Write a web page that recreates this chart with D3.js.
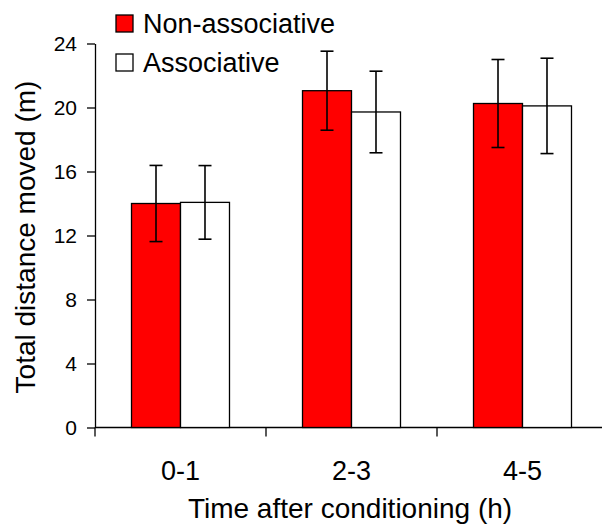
<!DOCTYPE html>
<html>
<head>
<meta charset="utf-8">
<script src="https://cdn.jsdelivr.net/npm/d3@7"></script>
<style>
  body { margin: 0; background: #fff; }
  svg text { font-family: "Liberation Sans", Arial, sans-serif; fill: #000; }
</style>
</head>
<body>
<div class="chart"></div>
<script>
// data
var categories = ["0-1", "2-3", "4-5"];
var seriesNames = ["Non-associative", "Associative"];
var nonAssocMean = [14.0, 21.05, 20.25];
var nonAssocErr = [2.38, 2.47, 2.75];
var assocMean = [14.07, 19.72, 20.1];
var assocErr = [2.3, 2.55, 2.98];
var yTicks = [0, 4, 8, 12, 16, 20, 24];

var svgWidth = 602;
var svgHeight = 524;

var margin = { top: 43.5, right: 0, bottom: 96.5, left: 95 };
var width = svgWidth - margin.left - margin.right;
var height = svgHeight - margin.top - margin.bottom;

var svg = d3.select(".chart")
    .append("svg")
    .attr("width", svgWidth)
    .attr("height", svgHeight);

var chartGroup = svg.append("g")
    .attr("transform", `translate(${margin.left}, ${margin.top})`);

// build rows from the arrays
var rows = categories.map(function(c, i) {
    return {
        cat: c,
        values: [
            { key: seriesNames[0], mean: nonAssocMean[i], err: nonAssocErr[i] },
            { key: seriesNames[1], mean: assocMean[i], err: assocErr[i] }
        ]
    };
});

var colors = d3.scaleOrdinal().domain(seriesNames).range(["#ff0000", "#ffffff"]);

// scales
var x0 = d3.scaleBand()
    .domain(categories)
    .range([0, 513])
    .paddingInner(0.427)
    .paddingOuter(0.2135);

var x1 = d3.scaleBand()
    .domain(seriesNames)
    .range([0, x0.bandwidth()]);

var yLinearScale = d3.scaleLinear()
    .domain([0, 24])
    .range([height, 0]);

// y axis
var leftAxis = d3.axisLeft(yLinearScale)
    .tickValues(yTicks)
    .tickSize(8)
    .tickSizeOuter(0)
    .tickPadding(10);

var yAxisG = chartGroup.append("g").call(leftAxis);
yAxisG.selectAll("text").style("font-size", "21px");
yAxisG.selectAll("line, path").attr("stroke", "#000").attr("stroke-width", 1.3);

// x axis line + tick marks at band boundaries
chartGroup.append("line")
    .attr("x1", 0).attr("x2", width + 10)
    .attr("y1", height).attr("y2", height)
    .attr("stroke", "#000").attr("stroke-width", 1.3);

var gap = (x0.step() - x0.bandwidth()) / 2;
chartGroup.selectAll(".xtick")
    .data(categories)
    .enter()
    .append("line")
    .attr("class", "xtick")
    .attr("x1", d => x0(d) - gap)
    .attr("x2", d => x0(d) - gap)
    .attr("y1", height)
    .attr("y2", height + 9)
    .attr("stroke", "#000").attr("stroke-width", 1.3);

chartGroup.selectAll(".xlabel")
    .data(categories)
    .enter()
    .append("text")
    .attr("class", "xlabel")
    .attr("x", d => x0(d) + x0.bandwidth() / 2)
    .attr("y", height + 52)
    .attr("text-anchor", "middle")
    .style("font-size", "27px")
    .text(d => d);

// bars
var groups = chartGroup.selectAll(".grp")
    .data(rows)
    .enter()
    .append("g")
    .attr("class", "grp")
    .attr("transform", d => `translate(${x0(d.cat)}, 0)`);

groups.selectAll("rect")
    .data(d => d.values)
    .enter()
    .append("rect")
    .attr("x", d => x1(d.key))
    .attr("y", d => yLinearScale(d.mean))
    .attr("width", x1.bandwidth())
    .attr("height", d => height - yLinearScale(d.mean))
    .attr("fill", d => colors(d.key))
    .attr("stroke", "#000")
    .attr("stroke-width", 1.3);

// error bars
var capW = 6.5;
var err = groups.selectAll(".err")
    .data(d => d.values)
    .enter()
    .append("g")
    .attr("class", "err")
    .attr("stroke", "#000")
    .attr("stroke-width", 1.6);

err.append("line")
    .attr("x1", d => x1(d.key) + x1.bandwidth() / 2)
    .attr("x2", d => x1(d.key) + x1.bandwidth() / 2)
    .attr("y1", d => yLinearScale(d.mean + d.err))
    .attr("y2", d => yLinearScale(d.mean - d.err));

err.append("line")
    .attr("x1", d => x1(d.key) + x1.bandwidth() / 2 - capW)
    .attr("x2", d => x1(d.key) + x1.bandwidth() / 2 + capW)
    .attr("y1", d => yLinearScale(d.mean + d.err))
    .attr("y2", d => yLinearScale(d.mean + d.err));

err.append("line")
    .attr("x1", d => x1(d.key) + x1.bandwidth() / 2 - capW)
    .attr("x2", d => x1(d.key) + x1.bandwidth() / 2 + capW)
    .attr("y1", d => yLinearScale(d.mean - d.err))
    .attr("y2", d => yLinearScale(d.mean - d.err));

// legend
var legend = svg.selectAll(".legend")
    .data(seriesNames)
    .enter()
    .append("g")
    .attr("class", "legend")
    .attr("transform", (d, i) => `translate(116, ${15 + i * 39})`);

legend.append("rect")
    .attr("width", 17)
    .attr("height", 17)
    .attr("fill", d => colors(d))
    .attr("stroke", "#000")
    .attr("stroke-width", 1.3);

legend.append("text")
    .attr("x", 27)
    .attr("y", 17.5)
    .style("font-size", "27px")
    .text(d => d);

// axis labels
chartGroup.append("text")
    .attr("transform", "rotate(-90)")
    .attr("x", -(237 - margin.top))
    .attr("y", 0 - margin.left + 35)
    .attr("text-anchor", "middle")
    .style("font-size", "28px")
    .text("Total distance moved (m)");

chartGroup.append("text")
    .attr("x", 255)
    .attr("y", height + 90)
    .attr("text-anchor", "middle")
    .style("font-size", "28px")
    .text("Time after conditioning (h)");
</script>
</body>
</html>
